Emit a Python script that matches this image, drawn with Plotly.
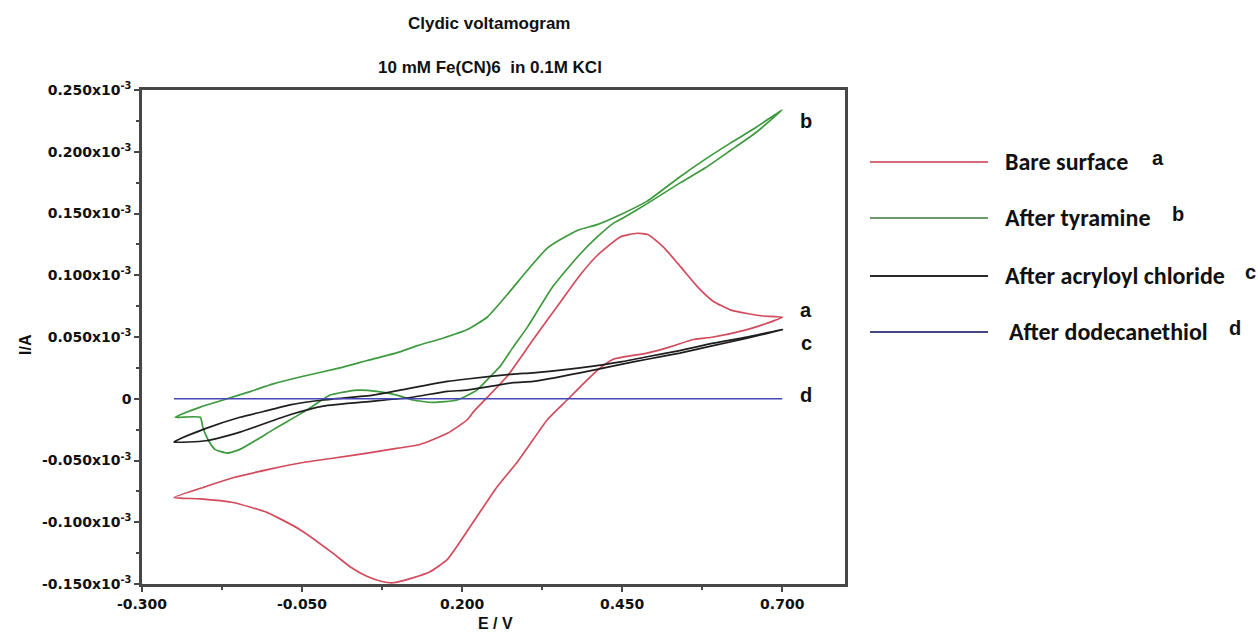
import numpy as np
import plotly.graph_objects as go

# ---------------- data (current in units of 1e-3 A) ----------------
E_bare = [-0.25, -0.20, -0.158, -0.10, -0.053, 0.0, 0.052, 0.10, 0.134, 0.177, 0.208, 0.217, 0.27, 0.311,
          0.353, 0.384, 0.411, 0.447, 0.473, 0.49, 0.514, 0.541, 0.567, 0.592, 0.619, 0.645, 0.67, 0.70,
          0.67, 0.645, 0.592, 0.561, 0.525, 0.489, 0.436, 0.411, 0.395, 0.364, 0.333, 0.311, 0.285, 0.255,
          0.212, 0.177, 0.150, 0.123, 0.092, 0.075, 0.052, 0.025, -0.002, -0.053, -0.105, -0.158, -0.209, -0.25]
I_bare = [-0.080, -0.071, -0.064, -0.057, -0.052, -0.048, -0.044, -0.040, -0.037, -0.028, -0.017, -0.011, 0.018, 0.048,
          0.078, 0.100, 0.116, 0.131, 0.134, 0.133, 0.123, 0.107, 0.091, 0.079, 0.072, 0.069, 0.067, 0.066,
          0.060, 0.056, 0.050, 0.048, 0.042, 0.037, 0.032, 0.023, 0.015, -0.001, -0.017, -0.033, -0.052, -0.071,
          -0.104, -0.130, -0.140, -0.145, -0.149, -0.148, -0.144, -0.136, -0.125, -0.106, -0.092, -0.084, -0.081, -0.080]

E_tyr = [-0.248, -0.21, -0.173, -0.13, -0.095, -0.05, 0.009, 0.052, 0.103, 0.13, 0.17, 0.208, 0.239, 0.27,
         0.302, 0.333, 0.364, 0.384, 0.411, 0.447, 0.489, 0.541, 0.58, 0.619, 0.66, 0.70,
         0.66, 0.619, 0.58, 0.541, 0.489, 0.45, 0.436, 0.411, 0.384, 0.342, 0.302, 0.28, 0.259, 0.244,
         0.223, 0.192, 0.155, 0.123, 0.098, 0.067, 0.036, -0.006, -0.042, -0.095, -0.12, -0.147, -0.167,
         -0.186, -0.197, -0.205, -0.209, -0.248]
I_tyr = [-0.015, -0.007, -0.001, 0.006, 0.012, 0.018, 0.025, 0.031, 0.038, 0.043, 0.049, 0.056, 0.066, 0.084,
         0.104, 0.122, 0.132, 0.137, 0.141, 0.149, 0.160, 0.180, 0.194, 0.207, 0.220, 0.234,
         0.216, 0.201, 0.187, 0.175, 0.158, 0.146, 0.142, 0.131, 0.117, 0.091, 0.058, 0.042, 0.026, 0.018,
         0.007, -0.001, -0.003, -0.001, 0.003, 0.006, 0.007, 0.003, -0.009, -0.025, -0.033, -0.041, -0.044,
         -0.041, -0.033, -0.023, -0.015, -0.015]

E_acr = [-0.25, -0.20, -0.147, -0.10, -0.069, -0.017, 0.061, 0.103, 0.177, 0.208, 0.28, 0.311, 0.384, 0.45,
         0.489, 0.54, 0.592, 0.645, 0.70,
         0.645, 0.592, 0.54, 0.489, 0.45, 0.384, 0.311, 0.28, 0.208, 0.177, 0.119, 0.061, -0.017, -0.069,
         -0.147, -0.20, -0.25]
I_acr = [-0.035, -0.024, -0.015, -0.009, -0.005, -0.001, 0.003, 0.007, 0.014, 0.016, 0.020, 0.021, 0.025, 0.030,
         0.034, 0.039, 0.045, 0.050, 0.056,
         0.049, 0.043, 0.037, 0.032, 0.028, 0.021, 0.014, 0.013, 0.007, 0.006, 0.001, -0.002, -0.006, -0.013,
         -0.027, -0.034, -0.035]

E_dod = [-0.25, 0.70]
I_dod = [0.0, 0.0]

series_names = ["Bare surface", "After tyramine", "After acryloyl chloride", "After dodecanethiol"]
series_tags = ["a", "b", "c", "d"]

x_tickvals = [-0.300, -0.050, 0.200, 0.450, 0.700]
x_ticktext = ["-0.300", "-0.050", "0.200", "0.450", "0.700"]
y_tickvals = [-0.150, -0.100, -0.050, 0.0, 0.050, 0.100, 0.150, 0.200, 0.250]
y_ticktext = ["-0.150x10<sup>-3</sup>", "-0.100x10<sup>-3</sup>", "-0.050x10<sup>-3</sup>", "0",
              "0.050x10<sup>-3</sup>", "0.100x10<sup>-3</sup>", "0.150x10<sup>-3</sup>",
              "0.200x10<sup>-3</sup>", "0.250x10<sup>-3</sup>"]

SCALE = 1e-3
colors = ["#d24b5c", "#3e9a3e", "#1e1e1e", "#4747b5"]
legend_colors = ["#d9687a", "#6a9a6a", "#2a2a2a", "#45458a"]

fig = go.Figure()
datasets = [(E_bare, I_bare), (E_tyr, I_tyr), (E_acr, I_acr), (E_dod, I_dod)]
for (E, I), c, n in zip(datasets, colors, series_names):
    fig.add_trace(go.Scatter(x=E, y=np.array(I) * SCALE, mode="lines", name=n,
                             line=dict(color=c, width=1.7, shape="spline", smoothing=0.5),
                             showlegend=False, hoverinfo="skip"))

# pixel helpers for layout placement (plot area 142..845 x, 90..584 y)
L, R, T, B = 142, 845, 90, 584
def px(x):
    return (x - L) / (R - L)
def py(y):
    return (B - y) / (B - T)

axis_col = "#474747"
tickfont = dict(family="DejaVu Sans", size=14, color="#111111", weight="bold")

fig.update_layout(
    width=1258, height=633,
    margin=dict(l=L, r=1258 - R, t=T, b=633 - B),
    paper_bgcolor="white", plot_bgcolor="white",
    xaxis=dict(range=[-0.3, 0.798], tickvals=x_tickvals, ticktext=x_ticktext,
               ticks="outside", ticklen=5, tickwidth=2, tickcolor=axis_col,
               showline=True, linewidth=2.5, linecolor=axis_col, mirror=True,
               showgrid=False, zeroline=False, tickfont=tickfont,
               minor=dict(tickvals=[-0.175, 0.075, 0.325, 0.575], ticks="outside", ticklen=3,
                          tickcolor=axis_col, tickwidth=1.5)),
    yaxis=dict(range=[-0.150e-3, 0.250e-3], tickvals=[v * SCALE for v in y_tickvals], ticktext=y_ticktext,
               ticks="outside", ticklen=5, tickwidth=2, tickcolor=axis_col,
               showline=True, linewidth=2.5, linecolor=axis_col, mirror=True,
               showgrid=False, zeroline=False, tickfont=tickfont,
               minor=dict(tickvals=[v * SCALE for v in [-0.125, -0.075, -0.025, 0.025, 0.075, 0.125, 0.175, 0.225]],
                          ticks="outside", ticklen=3, tickcolor=axis_col, tickwidth=1.5)),
)

ann = []
title_font = dict(family="Liberation Sans", size=17, color="#111111", weight="bold")
ann.append(dict(text="Clydic voltamogram", x=px(489), y=py(24), xref="paper", yref="paper",
                showarrow=False, font=title_font, xanchor="center", yanchor="middle"))
ann.append(dict(text="10 mM Fe(CN)6  in 0.1M KCl", x=px(490), y=py(67), xref="paper", yref="paper",
                showarrow=False, font=title_font, xanchor="center", yanchor="middle"))
ann.append(dict(text="I/A", x=px(25), y=py(345), xref="paper", yref="paper", textangle=-90,
                showarrow=False, font=dict(family="Liberation Sans", size=16, color="#111", weight="bold"),
                xanchor="center", yanchor="middle"))
ann.append(dict(text="E / V", x=px(495), y=py(623), xref="paper", yref="paper",
                showarrow=False, font=dict(family="Liberation Sans", size=16, color="#111", weight="bold"),
                xanchor="center", yanchor="middle"))

# curve tags
tag_font = dict(family="Liberation Sans", size=20, color="#111111", weight="bold")
tag_pos = [(806, 310), (806, 121), (806, 343), (806, 395)]
for t, (x, y) in zip(series_tags, tag_pos):
    ann.append(dict(text=t, x=px(x), y=py(y), xref="paper", yref="paper", showarrow=False,
                    font=tag_font, xanchor="center", yanchor="middle"))

# manual legend
leg_font = dict(family="Carlito, Lato, sans-serif", size=24, color="#111111", weight="bold")
leg_rows = [162, 218, 276, 332]
leg_text_x = [1003, 1003, 1003, 1007]
leg_tag_x = [1158, 1178, 1250, 1235]
shapes = []
for n, tg, c, yy, tx, gx in zip(series_names, series_tags, legend_colors, leg_rows, leg_text_x, leg_tag_x):
    shapes.append(dict(type="line", xref="paper", yref="paper", x0=px(870), x1=px(988), y0=py(yy), y1=py(yy),
                       line=dict(color=c, width=2)))
    ann.append(dict(text=n, x=px(tx), y=py(yy - 1), xref="paper", yref="paper", showarrow=False,
                    font=leg_font, xanchor="left", yanchor="middle"))
    ann.append(dict(text=tg, x=px(gx), y=py(yy - 4), xref="paper", yref="paper", showarrow=False,
                    font=dict(family="Liberation Sans", size=20, color="#111", weight="bold"),
                    xanchor="center", yanchor="middle"))

fig.update_layout(annotations=ann, shapes=shapes)
fig.write_html("out.html")
